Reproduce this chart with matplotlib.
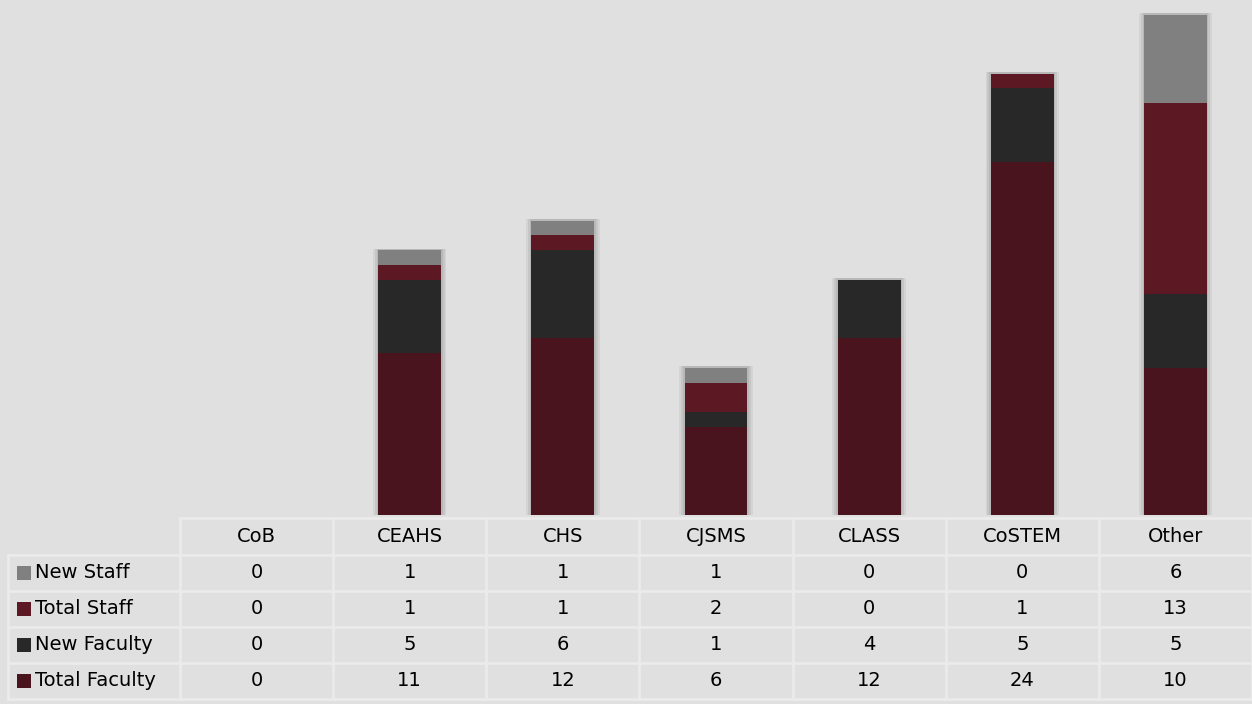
import matplotlib.pyplot as plt
import numpy as np

colleges = ['CoB', 'CEAHS', 'CHS', 'CJSMS', 'CLASS', 'CoSTEM', 'Other']
total_faculty = [0, 11, 12, 6, 12, 24, 10]
new_faculty = [0, 5, 6, 1, 4, 5, 5]
total_staff = [0, 1, 1, 2, 0, 1, 13]
new_staff = [0, 1, 1, 1, 0, 0, 6]

series = [('Total Faculty', total_faculty, '#4a141e'),
          ('New Faculty', new_faculty, '#282828'),
          ('Total Staff', total_staff, '#5d1923'),
          ('New Staff', new_staff, '#808080')]

bg = '#e0e0e0'
line_c = '#ebebeb'
W, H = 1252, 704
fig = plt.figure(figsize=(W / 100, H / 100), dpi=100, facecolor=bg)
plt.rcParams['font.family'] = ['DejaVu Sans']

# bars
left, right, bottom = 180, 1252, 515
ax = fig.add_axes([left / W, (H - bottom) / H, (right - left) / W, bottom / H])
ax.set_facecolor(bg)
x = np.arange(len(colleges))
width = 0.41

# soft shadow at the sides of each stack
totals = np.sum([s[1] for s in series], axis=0)
has = totals > 0
for pad, a in [(0.07, 0.2), (0.045, 0.3), (0.02, 0.45)]:
    ax.bar(x[has], totals[has] + 0.1, width + pad, color='#a8a8a8', alpha=a, linewidth=0)

base = np.zeros(len(colleges))
for name, vals, c in series:
    ax.bar(x, vals, width, bottom=base, color=c, linewidth=0)
    base += np.array(vals)

ax.set_xlim(-0.5, len(colleges) - 0.5)
ax.set_ylim(0, 35.0)
ax.set_xticks([])
ax.set_yticks([])
for spine in ax.spines.values():
    spine.set_visible(False)

# data table drawn in pixel coordinates
tab = fig.add_axes([0, 0, 1, 1], zorder=-1)
tab.set_xlim(0, W)
tab.set_ylim(H, 0)
tab.axis('off')
col_w = (right - left) / len(colleges)
row_y = [518, 555, 591, 627, 663, 699]
lw = 2
tab.plot([left, right], [row_y[0]] * 2, color=line_c, lw=lw)
for yy in row_y[1:]:
    tab.plot([8, right], [yy, yy], color=line_c, lw=lw)
tab.plot([8, 8], [row_y[1], row_y[-1]], color=line_c, lw=lw)
for k in range(len(colleges) + 1):
    xx = left + k * col_w
    tab.plot([xx, xx], [row_y[0], row_y[-1]], color=line_c, lw=lw)

fs = 14
for k, name in enumerate(colleges):
    tab.text(left + (k + 0.5) * col_w, (row_y[0] + row_y[1]) / 2, name,
             ha='center', va='center', fontsize=fs, color='black')
for r, (name, vals, c) in enumerate(reversed(series)):
    yc = (row_y[r + 1] + row_y[r + 2]) / 2
    tab.add_patch(plt.Rectangle((17, yc - 7), 14, 14, color=c, lw=0))
    tab.text(35, yc, name, ha='left', va='center', fontsize=fs, color='black')
    for k, v in enumerate(vals):
        tab.text(left + (k + 0.5) * col_w, yc, f"{v}",
                 ha='center', va='center', fontsize=fs, color='black')

fig.savefig('out.png', dpi=100, facecolor=bg)
